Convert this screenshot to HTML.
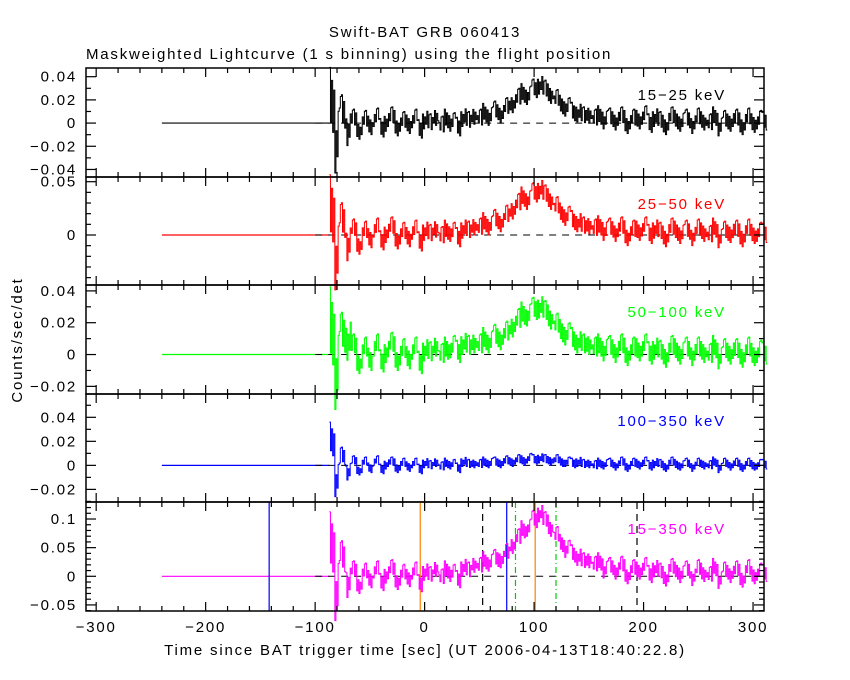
<!DOCTYPE html>
<html><head><meta charset="utf-8">
<style>
html,body{margin:0;padding:0;background:#fff;}
svg{display:block;font-family:"Liberation Sans",sans-serif;}
.t{font-size:15px;letter-spacing:1.8px;}
</style></head>
<body>
<svg id="chart" width="850" height="680" viewBox="0 0 850 680" xmlns="http://www.w3.org/2000/svg">
<text class="t" x="425" y="37" text-anchor="middle">Swift-BAT GRB 060413</text>
<text class="t" x="86" y="59">Maskweighted Lightcurve (1 s binning) using the flight position</text>
<text class="t" x="425" y="655" text-anchor="middle">Time since BAT trigger time [sec] (UT 2006-04-13T18:40:22.8)</text>
<text class="t" transform="translate(22,340) rotate(-90)" text-anchor="middle">Counts/sec/det</text>
<g id="panels"></g>
</svg>
<script>
// ---- data (values in units of 0.001 counts/sec/det, 5 s bins starting at t0) ----
const t0 = -87;
const binSize = 5;
const band1525 = [20,-15,10,-5,4,-6,3,-2,5,-4,1,6,-3,2,-1,4,-5,3,0,6,-2,4,1,-3,5,2,7,4,9,6,11,8,14,17,22,26,24,30,33,29,25,21,16,14,10,9,6,8,4,7,3,5,2,6,-1,4,3,7,0,5,2,-2,6,3,1,4,-1,5,2,0,6,-3,3,1,4,-2,5,0,3,2];
const band2550 = [25,-20,14,-8,6,-9,4,-3,7,-5,2,8,-4,3,-2,5,-6,4,1,7,-1,5,3,-2,6,4,9,7,12,9,15,12,19,24,30,36,33,40,43,38,33,27,21,18,14,12,8,10,6,9,4,7,3,8,-1,5,4,8,1,6,3,-2,7,4,1,5,-1,6,3,0,7,-3,4,2,5,-2,6,1,3,2];
const band50100 = [18,-10,14,9,6,-5,4,-3,6,-4,2,7,-3,3,-2,4,-5,3,1,6,0,4,5,2,7,5,8,6,10,8,12,10,14,18,22,26,25,29,30,27,23,19,15,13,10,8,6,7,4,6,3,5,2,6,0,4,3,6,1,4,2,-1,5,3,1,4,0,4,2,0,5,-2,3,1,3,-1,4,0,2,1];
const band100350 = [22,-12,8,-5,4,-4,3,-2,4,-3,1,3,-2,2,-1,2,-3,2,0,3,-1,2,1,-2,3,1,2,1,3,2,3,2,4,3,5,4,6,5,6,5,4,5,3,3,2,3,1,2,0,2,1,2,0,3,-1,2,1,3,0,2,1,-1,3,1,0,2,-1,2,1,0,3,-2,2,0,2,-1,2,0,1,1];
const band15350 = [60,-25,35,-10,12,-15,8,-5,12,-10,3,14,-8,6,-3,10,-12,8,2,15,-2,12,6,-5,16,10,22,18,28,24,32,30,42,55,68,82,85,100,110,98,85,72,58,48,40,34,26,30,20,26,12,18,10,20,2,14,10,18,4,14,8,-2,16,10,4,12,-1,14,6,2,16,-6,10,4,12,-4,14,2,8,6];
const bandLabels = ["15\u221225 keV","25\u221250 keV","50\u2212100 keV","100\u2212350 keV","15\u2212350 keV"];
const xTicks = [-300,-200,-100,0,100,200,300];
const markerTimes = [-142,-4,53,75,83,101,120,194];
const markerKinds = ["blue","orange","dash","blue","dashdot","orange","dashdot","dash"];

const NS="http://www.w3.org/2000/svg";
const g=document.getElementById('panels');
const X0=86, X1=764, TMIN=-309.3, TMAX=310;
function xs(t){return X0+(t-TMIN)/(TMAX-TMIN)*(X1-X0);}
function mk(tag,attrs,parent){const e=document.createElementNS(NS,tag);for(const k in attrs)e.setAttribute(k,attrs[k]);(parent||g).appendChild(e);return e;}

const panels=[
 {data:band1525,color:"#000",top:68,bot:177,ymax:0.0475,ymin:-0.0465,major:0.02,minor:0.01,ticks:[-0.04,-0.02,0,0.02,0.04],lab:["\u22120.04","\u22120.02","0","0.02","0.04"],noise:0.008,name:"15-25"},
 {data:band2550,color:"#f00",top:177,bot:285,ymax:0.0544,ymin:-0.0469,major:0.05,minor:0.01,ticks:[0,0.05],lab:["0","0.05"],noise:0.009,name:"25-50"},
 {data:band50100,color:"#0f0",top:285,bot:394,ymax:0.0437,ymin:-0.0248,major:0.02,minor:0.01,ticks:[-0.02,0,0.02,0.04],lab:["\u22120.02","0","0.02","0.04"],noise:0.007,name:"50-100"},
 {data:band100350,color:"#00f",top:394,bot:502,ymax:0.0594,ymin:-0.0305,major:0.02,minor:0.01,ticks:[-0.02,0,0.02,0.04],lab:["\u22120.02","0","0.02","0.04"],noise:0.004,name:"100-350"},
 {data:band15350,color:"#f0f",top:502,bot:611,ymax:0.1297,ymin:-0.0606,major:0.05,minor:0.01,ticks:[-0.05,0,0.05,0.1],lab:["\u22120.05","0","0.05","0.1"],noise:0.015,name:"15-350"}
];
const jig=[1,-0.7,0.6,-1,0.3,-0.5,0.9];

panels.forEach((p,pi)=>{
  const ys=v=>p.bot-(v-p.ymin)/(p.ymax-p.ymin)*(p.bot-p.top);
  const pg=mk('g',{});
  
  
  const fl=mk('line',{x1:xs(-240),x2:xs(t0),y1:ys(0),y2:ys(0),stroke:p.color,'stroke-width':1.2},pg);
  
  
  const zl=mk('line',{x1:xs(-100),x2:X1,y1:ys(0),y2:ys(0),stroke:'#000','stroke-width':1,'stroke-dasharray':'7,6'},pg);
  
  
  if(pi===4){
    markerTimes.forEach((mt,i)=>{
      const k=markerKinds[i];
      const a={x1:xs(mt),x2:xs(mt),y1:p.top,y2:p.bot,'stroke-width':1.2};
      if(k==='blue')a.stroke='#00f';
      if(k==='orange')a.stroke='#ff8000';
      if(k==='dash'){a.stroke='#000';a['stroke-dasharray']='7,5';}
      if(k==='dashdot'){a.stroke='#0c0';a['stroke-dasharray']='6,3,1,3';}
      const ml=mk('line',a,pg);
      
      
    });
  }
  let d='';
  p.data.forEach((v,i)=>{
    const val=v/1000;
    for(let s=0;s<binSize;s++){
      const t=t0+i*binSize+s;
      const amp=(i<2)?3.5:(i<4?1.8:1);
      const y=ys(val+jig[(s+i*3)%7]*p.noise*amp);
      d+=(d?'L':'M')+xs(t).toFixed(2)+','+y.toFixed(2)+'H'+xs(t+1).toFixed(2);
    }
  });
  const sp=mk('path',{d:d,fill:'none',stroke:p.color,'stroke-width':1},pg);
  
  
  const fr=mk('rect',{x:X0,y:p.top,width:X1-X0,height:p.bot-p.top,fill:'none',stroke:'#000','stroke-width':1.5},pg);
  
  
  for(let t=-300;t<=300;t+=20){
    const L=(t%100===0)?9:5;
    mk('line',{x1:xs(t),x2:xs(t),y1:p.bot,y2:p.bot-L,stroke:'#000','stroke-width':1.2},pg);
    mk('line',{x1:xs(t),x2:xs(t),y1:p.top,y2:p.top+L,stroke:'#000','stroke-width':1.2},pg);
  }
  const first=Math.ceil(p.ymin/p.minor-1e-6), last=Math.floor(p.ymax/p.minor+1e-6);
  for(let k=first;k<=last;k++){
    const v=k*p.minor;
    const isMaj=Math.abs(v/p.major-Math.round(v/p.major))<1e-6;
    const L=isMaj?10:5;
    mk('line',{x1:X0,x2:X0+L,y1:ys(v),y2:ys(v),stroke:'#000','stroke-width':1.2},pg);
    mk('line',{x1:X1,x2:X1-L,y1:ys(v),y2:ys(v),stroke:'#000','stroke-width':1.2},pg);
  }
  p.ticks.forEach((v,i)=>{
    const tl=mk('text',{x:X0-9,y:ys(v)+5,'text-anchor':'end','class':'t'},pg);
    tl.textContent=p.lab[i];
    
    
  });
  const bl=mk('text',{x:726,y:p.top+32,'text-anchor':'end','class':'t',fill:p.color},pg);
  bl.textContent=bandLabels[pi];
  
  
});
xTicks.forEach(t=>{
  const tx=mk('text',{x:xs(t),y:632,'text-anchor':'middle','class':'t'});
  tx.textContent=(t<0?'\u2212'+(-t):String(t));
  
  
});
</script>
</body></html>
